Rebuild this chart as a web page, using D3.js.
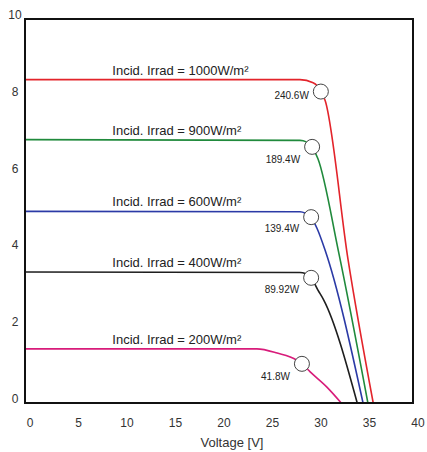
<!DOCTYPE html>
<html>
<head>
<meta charset="utf-8">
<script src="https://cdn.jsdelivr.net/npm/d3@7"></script>
<style>
    body { margin: 0; background: #fff; }
    svg { display: block; font-family: "Liberation Sans", Arial, sans-serif; }
</style>
</head>
<body>
<svg id="chart" width="427" height="452"></svg>
<script>
// irradiance levels, top to bottom
const irradiance = [1000, 900, 600, 400, 200];
const colors = ['#e3242b', '#208a3c', '#2b3aa6', '#1e1e1e', '#d81b7a'];

// I-V curves, [voltage, current]
const curve_1000 = [[0, 8.42], [28.35, 8.42], [29.7, 8.34], [30.5, 8.13], [30.95, 7.87], [33.3, 3.74], [35.9, 0]];
const curve_900 = [[0, 6.86], [28.35, 6.84], [29.0, 6.8], [29.6, 6.66], [30.2, 6.36], [32.3, 3.97], [35.35, 0]];
const curve_600 = [[0, 4.99], [28.35, 4.98], [28.9, 4.94], [29.5, 4.83], [30.1, 4.55], [30.95, 3.97], [34.85, 0]];
const curve_400 = [[0, 3.41], [28.35, 3.40], [28.9, 3.37], [29.5, 3.26], [30.2, 2.94], [30.8, 2.68], [34.25, 0]];
const curve_200 = [[0, 1.41], [23.9, 1.41], [26.0, 1.30], [28.0, 1.12], [28.55, 1.02], [29.4, 0.81], [31.1, 0.42], [32.6, 0]];
const curves = [curve_1000, curve_900, curve_600, curve_400, curve_200];

// maximum power points
const mpp_voltage = [30.5, 29.6, 29.5, 29.5, 28.55];
const mpp_current = [8.11, 6.67, 4.84, 3.26, 1.02];
const mpp_power = ['240.6W', '189.4W', '139.4W', '89.92W', '41.8W'];

const x_ticks = [0, 5, 10, 15, 20, 25, 30, 35, 40];
const y_ticks = [0, 2, 4, 6, 8, 10];

// layout only
const power_label_dy = [4, 13, 11, 12, 13];

const svg = d3.select('#chart');
const x = d3.scaleLinear().domain([0, 40]).range([25, 413]);
const y = d3.scaleLinear().domain([0, 10]).range([403, 19]);
const line = d3.line()
    .x(d => x(d[0]))
    .y(d => y(d[1]))
    .curve(d3.curveMonotoneX);

// tick labels (no tick marks in the original)
svg.append('g')
    .selectAll('text')
    .data(y_ticks)
    .join('text')
    .attr('x', 15)
    .attr('y', d => y(d))
    .attr('text-anchor', 'middle')
    .attr('font-size', 12)
    .attr('fill', '#333')
    .text(d => d);

svg.append('g')
    .selectAll('text')
    .data(x_ticks)
    .join('text')
    .attr('x', d => x(d) + 5)
    .attr('y', 427)
    .attr('text-anchor', 'middle')
    .attr('font-size', 12)
    .attr('fill', '#333')
    .text(d => d);

svg.append('text')
    .attr('x', 232)
    .attr('y', 447)
    .attr('text-anchor', 'middle')
    .attr('font-size', 13)
    .attr('fill', '#333')
    .text('Voltage [V]');

// curves
svg.append('g')
    .selectAll('path')
    .data(curves)
    .join('path')
    .attr('d', line)
    .attr('fill', 'none')
    .attr('stroke', (d, i) => colors[i])
    .attr('stroke-width', 1.6);

// irradiance labels above the flat part
svg.append('g')
    .selectAll('text')
    .data(irradiance)
    .join('text')
    .attr('x', x(9))
    .attr('y', (d, i) => y(curves[i][0][1]) - 5)
    .attr('font-size', 13)
    .attr('fill', '#222')
    .text(d => `Incid. Irrad = ${d}W/m²`);

// max power markers
svg.append('g')
    .selectAll('circle')
    .data(mpp_voltage)
    .join('circle')
    .attr('cx', d => x(d))
    .attr('cy', (d, i) => y(mpp_current[i]))
    .attr('r', 7.5)
    .attr('fill', '#fff')
    .attr('stroke', '#444')
    .attr('stroke-width', 1);

svg.append('g')
    .selectAll('text')
    .data(mpp_power)
    .join('text')
    .attr('x', (d, i) => x(mpp_voltage[i]) - 12)
    .attr('y', (d, i) => y(mpp_current[i]) + power_label_dy[i] + 3.5)
    .attr('text-anchor', 'end')
    .attr('font-size', 10)
    .attr('fill', '#222')
    .text(d => d);

// frame
svg.append('rect')
    .attr('x', x(0))
    .attr('y', y(10))
    .attr('width', x(40) - x(0))
    .attr('height', y(0) - y(10))
    .attr('fill', 'none')
    .attr('stroke', '#111')
    .attr('stroke-width', 2);
</script>
</body>
</html>
